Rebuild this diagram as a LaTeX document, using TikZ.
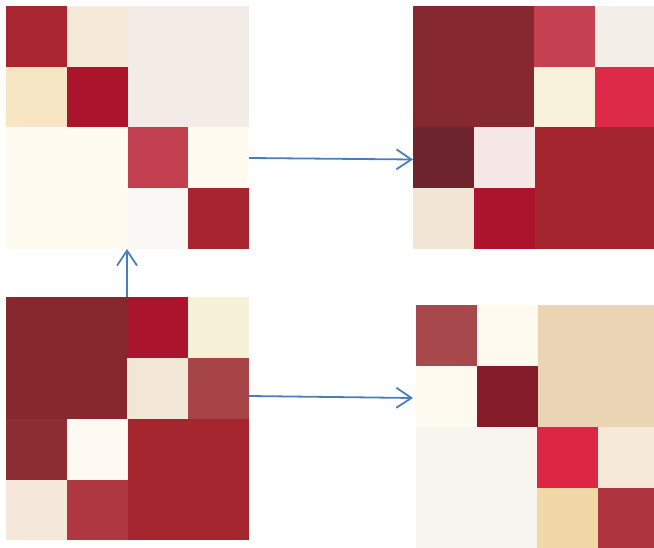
\documentclass[tikz,border=0pt]{standalone}
\usetikzlibrary{arrows.meta}
\definecolor{arr}{HTML}{4A7EBB}
\tikzset{
  flow/.style={draw=arr, line width=1.8pt, -{Straight Barb[length=15pt,width=20pt,line width=1.8pt]}},
  mat/.style={inner sep=0pt, outer sep=0pt, minimum width=243pt, minimum height=243pt, anchor=north west}
}
\newcommand{\cel}[5]{\definecolor{cellc}{HTML}{#5}\fill[cellc] (#1,#2) rectangle (#3,#4);}
\begin{document}
\begin{tikzpicture}[x=1pt,y=-1pt]
\useasboundingbox (0,0) rectangle (654,548);
% matrix frames (invisible nodes)
\node[mat] (tl) at (6,6) {};
\node[mat] (tr) at (413,6) {};
\node[mat] (bl) at (6,297) {};
\node[mat] (br) at (416,305) {};
% top-left
\cel{6}{6}{67}{67}{A8262F}
\cel{67}{6}{128}{67}{F7E9DA}
\cel{128}{6}{249}{127}{F3ECE6}
\cel{6}{67}{67}{127}{F6E6C4}
\cel{67}{67}{128}{127}{AA142D}
\cel{6}{127}{128}{249}{FFFBF1}
\cel{128}{127}{188}{188}{C23F50}
\cel{188}{127}{249}{188}{FFFBF1}
\cel{128}{188}{188}{249}{F9F8F5}
\cel{188}{188}{249}{249}{A6252F}
% top-right
\cel{413}{6}{534}{127}{85282F}
\cel{534}{6}{595}{67}{C44152}
\cel{595}{6}{654}{67}{F3EEE7}
\cel{534}{67}{595}{127}{F8F1DB}
\cel{595}{67}{654}{127}{DD2A48}
\cel{413}{127}{474}{188}{6E242C}
\cel{474}{127}{535}{188}{F6E8E6}
\cel{413}{188}{474}{249}{F2E5D6}
\cel{474}{188}{535}{249}{AC142D}
\cel{535}{127}{654}{249}{A5252F}
% bottom-left
\cel{6}{297}{127}{419}{85292F}
\cel{127}{297}{188}{358}{AA142D}
\cel{188}{297}{249}{358}{F8F1DA}
\cel{127}{358}{188}{419}{F2E6D6}
\cel{188}{358}{249}{419}{A64447}
\cel{6}{419}{67}{480}{8C2F34}
\cel{67}{419}{128}{480}{FFFAF1}
\cel{6}{480}{67}{540}{F5E8DA}
\cel{67}{480}{128}{540}{AF3742}
\cel{128}{419}{249}{540}{A5262F}
% bottom-right
\cel{416}{305}{477}{366}{A7484D}
\cel{477}{305}{538}{366}{FFFAEF}
\cel{538}{305}{654}{427}{E9D4B4}
\cel{416}{366}{477}{427}{FFFAEF}
\cel{477}{366}{538}{427}{851C2A}
\cel{416}{427}{537}{548}{F8F4EF}
\cel{537}{427}{598}{488}{DC2744}
\cel{598}{427}{654}{488}{F6E9DA}
\cel{537}{488}{598}{548}{F2D8A6}
\cel{598}{488}{654}{548}{AE3540}
% arrows
\coordinate (a1s) at (249,158);
\coordinate (a1e) at (413,159.5);
\coordinate (a2s) at (249,396);
\coordinate (a2e) at (413,398);
\coordinate (a3s) at (127,297);
\coordinate (a3e) at (127,249);
\draw[flow] (a1s) -- (a1e);
\draw[flow] (a2s) -- (a2e);
\draw[flow] (a3s) -- (a3e);
\end{tikzpicture}
\end{document}
